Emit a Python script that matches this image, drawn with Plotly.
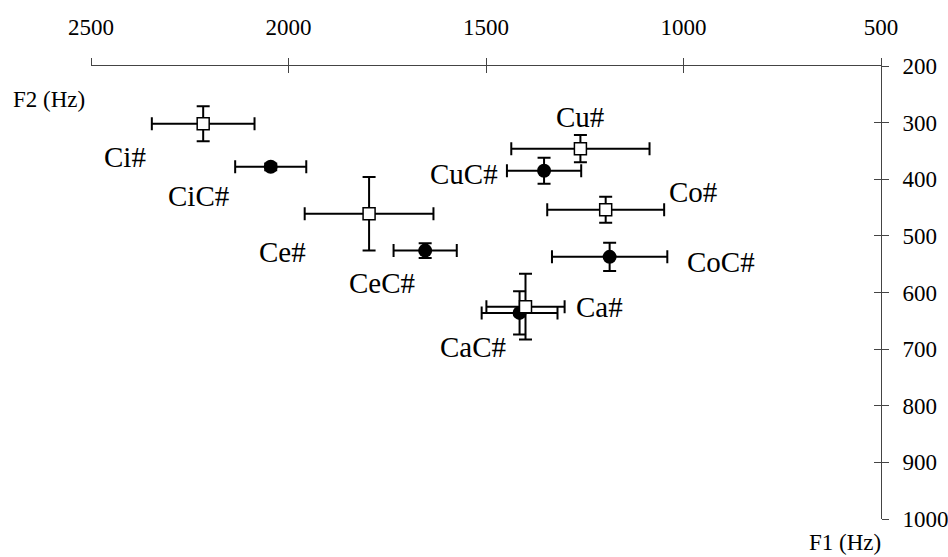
import plotly.graph_objects as go

# ---- data (F2 horizontal, F1 vertical, Hz) ----
iso_labels = ["Ci#", "Ce#", "Cu#", "Co#", "Ca#"]
iso_f2 = [2216, 1796, 1261, 1197, 1400]
iso_f1 = [302, 461, 346, 454, 625]
iso_f2_err = [130, 163, 175, 148, 99]
iso_f1_err = [31, 65, 24, 23, 58]

ctx_labels = ["CiC#", "CeC#", "CuC#", "CoC#", "CaC#"]
ctx_f2 = [2045, 1654, 1353, 1187, 1415]
ctx_f1 = [378, 526, 385, 537, 636]
ctx_f2_err = [90, 80, 94, 146, 96]
ctx_f1_err = [6, 13, 23, 25, 38]

x_ticks = [2500, 2000, 1500, 1000, 500]
y_ticks = [200, 300, 400, 500, 600, 700, 800, 900, 1000]

# label offsets in pixels (dx right, dy down)
iso_offsets = [(-78, 33), (-87, 38), (0, -32), (87, -18), (74, 0)]
ctx_offsets = [(-72, 29), (-43, 32), (-80, 3), (111, 5), (-47, 34)]

FONT = "Liberation Serif, Times New Roman, serif"

fig = go.Figure()

fig.add_trace(go.Scatter(
    x=ctx_f2, y=ctx_f1, mode="markers",
    marker=dict(symbol="circle", size=14, color="black"),
    error_x=dict(type="data", array=ctx_f2_err, color="black", thickness=2, width=6.5),
    error_y=dict(type="data", array=ctx_f1_err, color="black", thickness=2, width=6.5),
    showlegend=False, hoverinfo="skip",
))
fig.add_trace(go.Scatter(
    x=iso_f2, y=iso_f1, mode="markers",
    marker=dict(symbol="square", size=12, color="white",
                line=dict(color="black", width=1.5)),
    error_x=dict(type="data", array=iso_f2_err, color="black", thickness=2, width=6.5),
    error_y=dict(type="data", array=iso_f1_err, color="black", thickness=2, width=6.5),
    showlegend=False, hoverinfo="skip",
))
# dummy trace for the overlay axes (inner half of crossing ticks)
fig.add_trace(go.Scatter(x=[None], y=[None], xaxis="x2", yaxis="y2",
                         showlegend=False, hoverinfo="skip"))

annotations = []
for lab, x, y, (dx, dy) in zip(iso_labels + ctx_labels, iso_f2 + ctx_f2,
                               iso_f1 + ctx_f1, iso_offsets + ctx_offsets):
    annotations.append(dict(x=x, y=y, xref="x", yref="y", text=lab,
                            showarrow=False, xshift=dx, yshift=-dy,
                            font=dict(family=FONT, size=29, color="black")))

annotations.append(dict(x=-0.1008, y=0.925, xref="paper", yref="paper",
                        text="F2 (Hz)", showarrow=False, xanchor="left",
                        yanchor="middle",
                        font=dict(family=FONT, size=23, color="black")))
annotations.append(dict(x=1.0025, y=-0.052, xref="paper", yref="paper",
                        text="F1 (Hz)", showarrow=False, xanchor="right",
                        yanchor="middle",
                        font=dict(family=FONT, size=23, color="black")))

axis_common = dict(showgrid=False, zeroline=False, showline=True,
                   linecolor="#444", linewidth=1, tickcolor="#444",
                   ticklen=7, tickwidth=1, automargin=False,
                   tickfont=dict(family=FONT, size=23, color="black"))

fig.update_layout(
    width=948, height=557,
    font=dict(family=FONT, color="black"),
    margin=dict(l=90.7, r=66.5, t=66, b=37.7, autoexpand=False),
    paper_bgcolor="white", plot_bgcolor="white",
    xaxis=dict(range=[2500, 500], side="top", tickvals=x_ticks,
               ticks="outside", anchor="y", ticklabelstandoff=14,
               **axis_common),
    yaxis=dict(range=[1000, 200], side="right", tickvals=y_ticks,
               ticks="outside", anchor="x", ticklabelstandoff=9,
               **axis_common),
    xaxis2=dict(range=[2500, 500], side="top", tickvals=x_ticks,
                ticks="inside", overlaying="x", showticklabels=False,
                anchor="y2", **axis_common),
    yaxis2=dict(range=[1000, 200], side="right", tickvals=y_ticks,
                ticks="inside", overlaying="y", showticklabels=False,
                anchor="x2", **axis_common),
    annotations=annotations,
)

fig.write_html("out.html")
